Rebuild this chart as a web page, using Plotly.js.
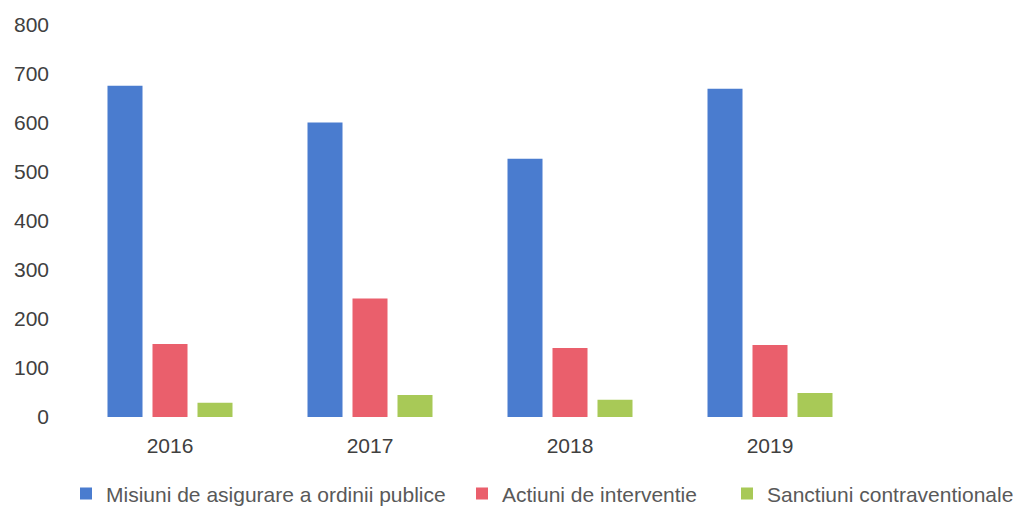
<!DOCTYPE html>
<html>
<head>
<meta charset="utf-8">
<script src="https://cdn.plot.ly/plotly-3.0.1.min.js"></script>
<style>html,body{margin:0;padding:0;background:#fff;}#chart{width:1019px;height:507px;}</style>
</head>
<body>
<div id="chart"></div>
<script>
const years = ['2016', '2017', '2018', '2019'];
const seriesNames = ['Misiuni de asigurare a ordinii publice', 'Actiuni de interventie', 'Sanctiuni contraventionale'];
const misiuni = [676, 601, 527, 670];
const actiuni = [149, 242, 141, 147];
const sanctiuni = [29, 45, 35, 49];
const yTicks = [0, 100, 200, 300, 400, 500, 600, 700, 800];
const colors = ['#4a7ccf', '#ea5f6c', '#a8c957'];

const values = [misiuni, actiuni, sanctiuni];
const legendIds = ['legend', 'legend2', 'legend3'];
const traces = values.map((v, i) => ({
  type: 'bar',
  x: years,
  y: v,
  name: seriesNames[i],
  marker: {color: colors[i]},
  legend: legendIds[i],
  hoverinfo: 'x+y+name'
}));

const legendX = [66, 462, 727];
function legendBox(px) {
  return {
    orientation: 'h',
    x: (px - 70) / 949,
    xanchor: 'left',
    y: -0.196,
    yanchor: 'middle',
    font: {size: 21, color: '#595959'},
    itemwidth: 30,
    tracegroupgap: 0,
    bgcolor: 'rgba(0,0,0,0)'
  };
}

const layout = {
  width: 1019,
  height: 507,
  margin: {l: 70, r: 0, t: 25, b: 90, autoexpand: false},
  paper_bgcolor: '#fff',
  plot_bgcolor: '#fff',
  font: {family: 'Liberation Sans, Arial, sans-serif', color: '#404040', size: 21},
  barmode: 'group',
  bargap: 0.325,
  bargroupgap: 0.222,
  xaxis: {
    type: 'category',
    range: [-0.5, 4.245],
    showgrid: false,
    zeroline: false,
    showline: false,
    ticks: '',
    ticklabelstandoff: 14,
    tickfont: {size: 21, color: '#404040'}
  },
  yaxis: {
    range: [0, 800],
    tickvals: yTicks,
    ticktext: yTicks.map(String),
    showgrid: false,
    zeroline: false,
    showline: false,
    ticks: '',
    ticklabelstandoff: 20,
    tickfont: {size: 21, color: '#404040'}
  },
  showlegend: true,
  legend: legendBox(legendX[0]),
  legend2: legendBox(legendX[1]),
  legend3: legendBox(legendX[2])
};

Plotly.newPlot('chart', traces, layout, {displayModeBar: false, staticPlot: true});
</script>
</body>
</html>
